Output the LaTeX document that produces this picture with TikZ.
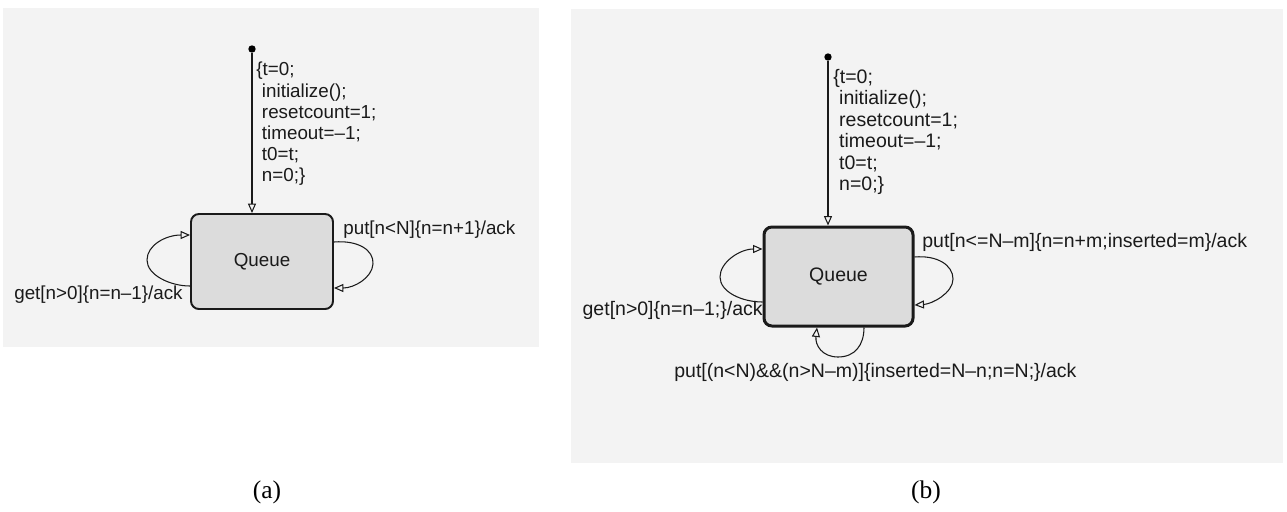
\documentclass[tikz,border=0pt]{standalone}
\usepackage{fontspec}
\setmainfont{Liberation Sans}
\newfontfamily\capfont{Liberation Serif}
\usetikzlibrary{arrows.meta,calc}
\definecolor{panelgray}{HTML}{F3F3F3}
\definecolor{stategray}{HTML}{DCDCDC}
\definecolor{inkgray}{HTML}{1A1A1A}
\newcommand\lblfont{\fontsize{10.7pt}{12pt}\selectfont}
\newcommand\lblfontb{\fontsize{11.1pt}{12.2pt}\selectfont}
\newcommand\capsize{\capfont\fontsize{14.5pt}{16pt}\selectfont}

\begin{document}
\begin{tikzpicture}[x=0.02cm,y=-0.02cm,
  state/.style={draw=inkgray,fill=stategray,rounded corners=4.5pt,inner sep=0pt,
                text=inkgray},
  lbl/.style={inner sep=0pt,text=inkgray},
  initdot/.style={circle,fill=black,inner sep=0pt,minimum size=4.2pt},
  trans/.style={draw=inkgray,line width=0.6pt,
                -{Triangle[open,length=5.4pt,width=4.6pt]}},
  caption/.style={inner sep=0pt,font=\capsize}]

\useasboundingbox (0,0) rectangle (1287,511);

% background panels
\fill[panelgray] (3,8) rectangle (539,347);
\fill[panelgray] (571,9) rectangle (1283,463);

% ---------------- (a) ----------------
\begin{scope}[every node/.append style={font=\lblfont}]
\node[state,line width=1.1pt,minimum width=142*0.02cm,minimum height=95*0.02cm]
  (qa) at (262,261.5) {Queue};
\node[initdot] (ia) at (252,49) {};
\draw[trans] (ia) -- (ia |- qa.north);
\node[lbl,align=left,anchor=north west] (inita) at (256,62)
  {\{t=0;\\ \hspace*{0.3em}initialize();\\ \hspace*{0.3em}resetcount=1;\\
   \hspace*{0.3em}timeout=–1;\\ \hspace*{0.3em}t0=t;\\ \hspace*{0.3em}n=0;\}};

\coordinate (ara) at (qa.east |- 0,242);
\coordinate (arb) at (qa.east |- 0,288);
\draw[trans] (ara) .. controls (358,240) and (374,250) .. (373,264)
  .. controls (372,278) and (354,288) .. (arb);
\node[lbl,anchor=west] (puta) at (343,229.5) {put[n<N]\{n=n+1\}/ack};

\coordinate (ala) at (qa.west |- 0,286);
\coordinate (alb) at (qa.west |- 0,235);
\draw[trans] (ala) .. controls (170,286) and (147,275) .. (147,260)
  .. controls (147,245) and (166,235) .. (alb);
\node[lbl,anchor=east] (geta) at (183,295) {get[n>0]\{n=n–1\}/ack};
\end{scope}

\node[caption] (capa) at (267,492) {(a)};

% ---------------- (b) ----------------
\begin{scope}[every node/.append style={font=\lblfontb}]
\node[state,line width=1.7pt,minimum width=149*0.02cm,minimum height=99*0.02cm]
  (qb) at (838.5,276.5) {Queue};
\node[initdot] (ib) at (828,57) {};
\draw[trans] (ib) -- (ib |- qb.north);
\node[lbl,align=left,anchor=north west] (initb) at (833,69)
  {\{t=0;\\ \hspace*{0.3em}initialize();\\ \hspace*{0.3em}resetcount=1;\\
   \hspace*{0.3em}timeout=–1;\\ \hspace*{0.3em}t0=t;\\ \hspace*{0.3em}n=0;\}};

\coordinate (bra) at (qb.east |- 0,257);
\coordinate (brb) at (qb.east |- 0,305);
\draw[trans] (bra) .. controls (937,255) and (953,265) .. (953,279)
  .. controls (953,293) and (932,304) .. (brb);
\node[lbl,anchor=west] (putb) at (922,242) {put[n<=N–m]\{n=n+m;inserted=m\}/ack};

\coordinate (bla) at (qb.west |- 0,302);
\coordinate (blb) at (qb.west |- 0,249);
\draw[trans] (bla) .. controls (742,302) and (720,292) .. (720,277)
  .. controls (720,262) and (740,249) .. (blb);
\node[lbl,anchor=east] (getb) at (763,310) {get[n>0]\{n=n–1;\}/ack};

\coordinate (bba) at (qb.south -| 864,0);
\coordinate (bbb) at (qb.south -| 817,0);
\draw[trans] (bba) .. controls (864,345) and (855,357) .. (838,357)
  .. controls (822,357) and (815,345) .. (bbb);
\node[lbl,anchor=west] (putb2) at (674,372) {put[(n<N)\&\&(n>N–m)]\{inserted=N–n;n=N;\}/ack};
\end{scope}

\node[caption] (capb) at (926,492) {(b)};
\end{tikzpicture}
\end{document}
